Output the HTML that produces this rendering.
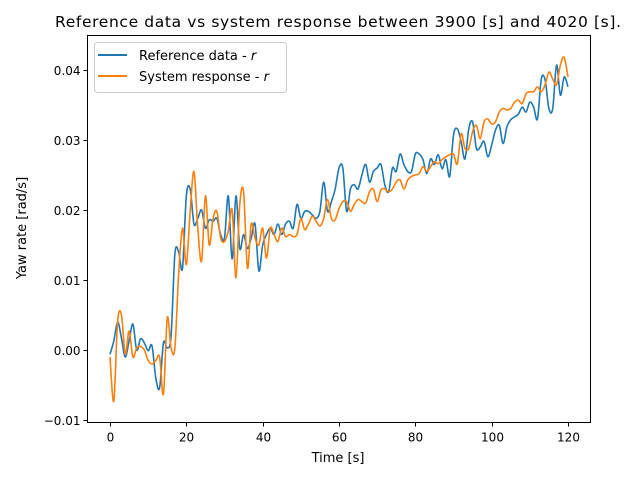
<!DOCTYPE html>
<html><head><meta charset="utf-8"><style>
body{margin:0;background:#fff}
svg{display:block;font-family:"DejaVu Sans","Liberation Sans",sans-serif}
</style></head><body>
<svg id="chart" width="640" height="480" viewBox="0 0 640 480">
<rect x="0" y="0" width="640" height="480" fill="#fff"/>
<text x="338" y="27" font-size="15.5" text-anchor="middle" textLength="566">Reference data vs system response between 3900 [s] and 4020 [s].</text>
<g id="plot"></g>
<g id="axes"></g>
<text x="338" y="462" font-size="13" text-anchor="middle">Time [s]</text>
<text transform="translate(26,228) rotate(-90)" font-size="13" text-anchor="middle">Yaw rate [rad/s]</text>
<g>
<rect x="94.5" y="42.5" width="192" height="50" rx="3" fill="#fff" fill-opacity="0.8" stroke="#ccc"/>
<g><line x1="98" y1="55" x2="127" y2="55" stroke="#1f77b4" stroke-width="2"/><text x="139" y="60" font-size="13">Reference data - <tspan font-style="italic">r</tspan></text></g>
<g><line x1="98" y1="76" x2="127" y2="76" stroke="#ff7f0e" stroke-width="2"/><text x="139" y="81" font-size="13">System response - <tspan font-style="italic">r</tspan></text></g>
</g>
</svg>
<script>
const xTicks = [0, 20, 40, 60, 80, 100, 120];
const yTicks = [-0.01, 0.00, 0.01, 0.02, 0.03, 0.04];
const yTickLabels = ["\u22120.01", "0.00", "0.01", "0.02", "0.03", "0.04"];
const refSeries = [-0.0006,0.0013,0.004,0.0017,-0.001,0.0013,0.0037,0,0.0016,0.001,-0.0001,0.0006,-0.004,-0.0054,0.001,0.0003,0.002,0.0137,0.014,0.0117,
0.022,0.023,0.018,0.0188,0.02,0.0174,0.0186,0.0184,0.0188,0.0165,0.016,0.022,0.013,0.022,0.0145,0.0165,0.0145,0.016,0.018,0.0113,
0.015,0.0165,0.0174,0.0165,0.018,0.0165,0.018,0.0184,0.0174,0.0208,0.0188,0.0198,0.0198,0.0193,0.0188,0.0198,0.024,0.0198,0.0212,0.023,
0.026,0.026,0.0198,0.023,0.0236,0.023,0.025,0.0265,0.024,0.0255,0.026,0.0265,0.0236,0.0226,0.026,0.0255,0.028,0.0265,0.0255,0.0255,
0.028,0.028,0.0272,0.0252,0.0273,0.0265,0.0279,0.0259,0.0272,0.0248,0.0307,0.0316,0.0298,0.0273,0.0316,0.0326,0.0288,0.029,0.0298,0.0276,
0.0293,0.0314,0.0321,0.0295,0.0319,0.0329,0.0333,0.0337,0.0347,0.034,0.0354,0.0347,0.033,0.0387,0.0386,0.0345,0.0345,0.0407,0.0364,0.039,0.0376];
const sysSeries = [-0.001,-0.0073,0.0041,0.005,-0.0006,0.0027,-0.001,0.0003,0.0005,0,-0.0015,-0.002,-0.0015,-0.001,-0.0063,0.0046,0.0003,0.0003,0.011,0.0174,
0.0122,0.0198,0.0255,0.0174,0.0127,0.022,0.015,0.0188,0.0198,0.016,0.0155,0.017,0.02,0.0103,0.0208,0.0226,0.0117,0.018,0.016,0.015,
0.0174,0.0131,0.0174,0.0165,0.0155,0.0174,0.0162,0.0165,0.0162,0.0165,0.0188,0.0172,0.018,0.0191,0.0184,0.0177,0.0188,0.0215,0.0188,0.0186,
0.0202,0.0212,0.0212,0.0198,0.0208,0.0215,0.0212,0.021,0.0226,0.023,0.0212,0.0229,0.023,0.0226,0.023,0.024,0.0243,0.023,0.0243,0.0248,
0.025,0.0252,0.0262,0.0255,0.0262,0.0269,0.0266,0.0272,0.0276,0.0279,0.028,0.0266,0.0309,0.0288,0.0288,0.0312,0.0321,0.0302,0.0326,0.033,
0.0323,0.0326,0.034,0.0345,0.0343,0.0345,0.0354,0.0357,0.0352,0.0366,0.0369,0.0369,0.0376,0.0369,0.0379,0.0397,0.0387,0.0379,0.0407,0.0418,0.039];

const NS = "http://www.w3.org/2000/svg";
const L = 87.5, R = 590.5, T = 35.5, B = 422.5;
function xs(t){ return 110 + t * (568 - 110) / 120; }
function ys(v){ return 350 - v * 7000; }

const plot = document.getElementById('plot');
const axes = document.getElementById('axes');

function smoothPath(vals){
  const p = vals.map((v,i)=>[xs(i), ys(v)]);
  let d = "M" + p[0][0].toFixed(2) + "," + p[0][1].toFixed(2);
  for (let i = 0; i < p.length - 1; i++) {
    const p0 = p[Math.max(0,i-1)], p1 = p[i], p2 = p[i+1], p3 = p[Math.min(p.length-1,i+2)];
    const c1x = p1[0] + (p2[0]-p0[0])/6, c1y = p1[1] + (p2[1]-p0[1])/6;
    const c2x = p2[0] - (p3[0]-p1[0])/6, c2y = p2[1] - (p3[1]-p1[1])/6;
    d += " C" + c1x.toFixed(2) + "," + c1y.toFixed(2) + " " + c2x.toFixed(2) + "," + c2y.toFixed(2) + " " + p2[0].toFixed(2) + "," + p2[1].toFixed(2);
  }
  return d;
}

const refLine = document.createElementNS(NS, 'path');
refLine.setAttribute('d', smoothPath(refSeries));
refLine.setAttribute('fill', 'none');
refLine.setAttribute('stroke', '#1f77b4');
refLine.setAttribute('stroke-width', '1.6');


plot.appendChild(refLine);

const sysLine = document.createElementNS(NS, 'path');
sysLine.setAttribute('d', smoothPath(sysSeries));
sysLine.setAttribute('fill', 'none');
sysLine.setAttribute('stroke', '#ff7f0e');
sysLine.setAttribute('stroke-width', '1.6');


plot.appendChild(sysLine);

const frame = document.createElementNS(NS, 'rect');
frame.setAttribute('x', L); frame.setAttribute('y', T);
frame.setAttribute('width', R - L); frame.setAttribute('height', B - T);
frame.setAttribute('fill', 'none'); frame.setAttribute('stroke', '#000'); frame.setAttribute('stroke-width', '1');


axes.appendChild(frame);

xTicks.forEach(t => {
  const x = Math.round(xs(t)) + 0.5;
  const tk = document.createElementNS(NS, 'line');
  tk.setAttribute('x1', x); tk.setAttribute('x2', x); tk.setAttribute('y1', B); tk.setAttribute('y2', B + 4);
  tk.setAttribute('stroke', '#000');
  
  
  axes.appendChild(tk);
  const lb = document.createElementNS(NS, 'text');
  lb.setAttribute('x', x); lb.setAttribute('y', B + 19);
  lb.setAttribute('font-size', '12'); lb.setAttribute('text-anchor', 'middle');
  lb.textContent = String(t);
  
  
  axes.appendChild(lb);
});

yTicks.forEach((v, i) => {
  const y = Math.round(ys(v)) + 0.5;
  const tk = document.createElementNS(NS, 'line');
  tk.setAttribute('x1', L - 4); tk.setAttribute('x2', L); tk.setAttribute('y1', y); tk.setAttribute('y2', y);
  tk.setAttribute('stroke', '#000');
  
  
  axes.appendChild(tk);
  const lb = document.createElementNS(NS, 'text');
  lb.setAttribute('x', L - 7); lb.setAttribute('y', y + 4.5);
  lb.setAttribute('font-size', '12'); lb.setAttribute('text-anchor', 'end');
  lb.textContent = yTickLabels[i];
  
  
  axes.appendChild(lb);
});
</script>
</body></html>
